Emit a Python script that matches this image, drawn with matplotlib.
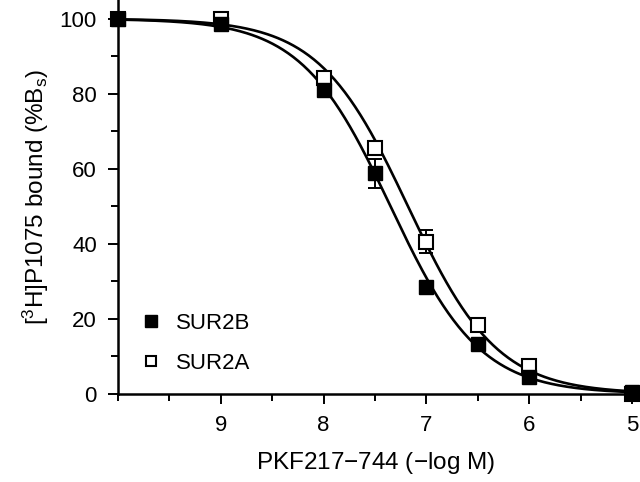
import numpy as np
import matplotlib
matplotlib.use("Agg")
from matplotlib import pyplot as plt
from matplotlib.ticker import MultipleLocator

plt.rcParams['font.family'] = ['Liberation Sans', 'DejaVu Sans']
plt.rcParams['mathtext.fontset'] = 'custom'
plt.rcParams['mathtext.rm'] = 'Liberation Sans'
plt.rcParams['mathtext.it'] = 'Liberation Sans:italic'

# concentration, -log M
conc = [10, 9, 8, 7.5, 7, 6.5, 6, 5]

sur2b = [100, 98.5, 81, 58.8, 28.5, 13.4, 4.5, 0.5]
sur2b_err = [0, 0.8, 1.0, 3.9, 0.8, 1.0, 1.0, 0.5]

sur2a = [100, 100, 84.3, 65.6, 40.6, 18.3, 7.3, 0]
sur2a_err = [0, 1.8, 1.2, 1.5, 3.0, 1.5, 1.5, 1.0]

# fitted curves (pIC50, hill slope)
fit_b = (7.35, 1.0)
fit_a = (7.18, 1.0)


def logistic(x, p, h):
    return 100 / (1 + 10 ** (h * (p - x)))


fig = plt.figure(figsize=(6.4, 4.82), dpi=100)
ax = fig.add_axes([0.184, 0.183, 0.804, 0.817])

xs = np.linspace(10, 5, 300)
ax.plot(xs, logistic(xs, *fit_b), color='black', lw=1.9, zorder=2)
ax.plot(xs, logistic(xs, *fit_a), color='black', lw=1.9, zorder=2)

ax.errorbar(conc, sur2a, yerr=sur2a_err, fmt='none', ecolor='black',
            elinewidth=1.4, capsize=5, capthick=1.4, zorder=3, clip_on=False)
ax.errorbar(conc, sur2b, yerr=sur2b_err, fmt='none', ecolor='black',
            elinewidth=1.4, capsize=5, capthick=1.4, zorder=3, clip_on=False)
ax.plot(conc, sur2a, 's', ms=9.5, mfc='white', mec='black', mew=1.5,
        zorder=4, clip_on=False, label='SUR2A')
ax.plot(conc, sur2b, 's', ms=10, mfc='black', mec='black',
        zorder=5, clip_on=False, label='SUR2B')

ax.set_xlim(10, 5)
ax.set_ylim(0, 105)
ax.set_xticks([9, 8, 7, 6, 5])
ax.xaxis.set_minor_locator(MultipleLocator(0.5))
ax.set_yticks([0, 20, 40, 60, 80, 100])
ax.yaxis.set_minor_locator(MultipleLocator(10))
ax.tick_params(which='major', direction='out', length=7, width=1.4,
               labelsize=16, pad=8)
ax.tick_params(which='minor', direction='out', length=5, width=1.4)
for s in ['top', 'right']:
    ax.spines[s].set_visible(False)
for s in ['left', 'bottom']:
    ax.spines[s].set_linewidth(1.8)

ax.set_xlabel('PKF217$-$744 ($-$log M)', fontsize=17.5, labelpad=10)
ax.set_ylabel(r'[$\mathregular{^3}$H]P1075 bound (%B$\mathregular{_s}$)',
              fontsize=17.5, labelpad=6)

handles, labels = ax.get_legend_handles_labels()
ax.legend(handles[::-1], labels[::-1], loc='lower left',
          bbox_to_anchor=(0.0, 0.0), frameon=False, fontsize=16,
          handletextpad=0.5, labelspacing=0.85, markerscale=0.8,
          handlelength=1.2)

fig.savefig('out.png', dpi=100)
